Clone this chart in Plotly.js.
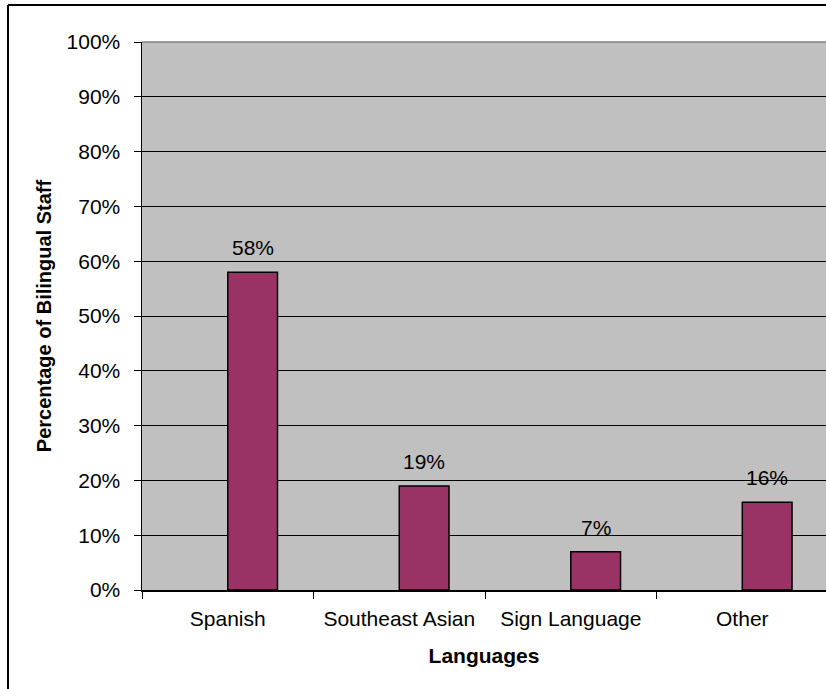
<!DOCTYPE html>
<html>
<head>
<meta charset="utf-8">
<script src="https://cdn.plot.ly/plotly-3.0.1.min.js"></script>
<style>html,body{margin:0;padding:0;background:#fff;}#chart{width:826px;height:689px;}</style>
</head>
<body>
<div id="chart"></div>
<script>
const categories = ["Spanish", "Southeast Asian", "Sign Language", "Other"];
const shares = [0.58, 0.19, 0.07, 0.16];
const labels = ["58%", "19%", "7%", "16%"];
const yTickVals = [0, 0.1, 0.2, 0.3, 0.4, 0.5, 0.6, 0.7, 0.8, 0.9, 1.0];

const font = "'Liberation Sans', Arial, sans-serif";
const FS = 21;
const BAR_W = 0.29;

const trace = {
  type: "bar",
  x: categories,
  y: shares,
  offset: 0,
  width: BAR_W,
  marker: { color: "#993366", line: { color: "#000000", width: 1.5 } },
  hoverinfo: "skip"
};

const annotations = categories.map((c, i) => ({
  x: i + BAR_W / 2,
  y: shares[i],
  xref: "x",
  yref: "y",
  text: labels[i],
  showarrow: false,
  yanchor: "bottom",
  yshift: 11,
  font: { family: font, size: FS, color: "#000" }
}));

const layout = {
  width: 826,
  height: 689,
  margin: { l: 142, r: 0, t: 42, b: 99 },
  paper_bgcolor: "#ffffff",
  plot_bgcolor: "#C0C0C0",
  showlegend: false,
  font: { family: font, size: FS, color: "#000" },
  xaxis: {
    type: "category",
    range: [-0.5, 3.488],
    tickson: "boundaries",
    ticks: "outside",
    ticklen: 7,
    tickcolor: "#000",
    tickwidth: 1,
    showline: true,
    linecolor: "#000",
    linewidth: 1.5,
    showgrid: false,
    zeroline: false,
    ticklabelstandoff: 9,
    tickfont: { family: font, size: FS, color: "#000" },
    title: { text: "<b>Languages</b>", font: { family: font, size: FS, color: "#000" }, standoff: 19 },
    automargin: false,
    fixedrange: true
  },
  yaxis: {
    range: [0, 1],
    tickvals: yTickVals,
    tickformat: ".0%",
    ticks: "outside",
    ticklen: 7,
    tickcolor: "#000",
    tickwidth: 1,
    showline: true,
    linecolor: "#000",
    linewidth: 1.5,
    showgrid: true,
    gridcolor: "#000",
    gridwidth: 1,
    zeroline: false,
    ticklabelstandoff: 9,
    tickfont: { family: font, size: FS, color: "#000" },
    title: { text: "<b>Percentage of Bilingual Staff</b>", font: { family: font, size: 20, color: "#000" }, standoff: 9 },
    automargin: false,
    fixedrange: true
  },
  annotations: annotations,
  shapes: [
    { type: "line", xref: "paper", yref: "paper", x0: 0, x1: 1.01, y0: 1, y1: 1, line: { color: "#808080", width: 1.5 }, layer: "above" },
    { type: "line", xref: "paper", yref: "paper", x0: (8 - 142) / 684, x1: 1.02, y0: (590 - 5) / 548, y1: (590 - 5) / 548, line: { color: "#000", width: 2 } },
    { type: "line", xref: "paper", yref: "paper", x0: (8 - 142) / 684, x1: (8 - 142) / 684, y0: (590 - 5) / 548, y1: -0.2, line: { color: "#000", width: 2 } }
  ]
};

Plotly.newPlot("chart", [trace], layout, { displayModeBar: false, staticPlot: true });
</script>
</body>
</html>
